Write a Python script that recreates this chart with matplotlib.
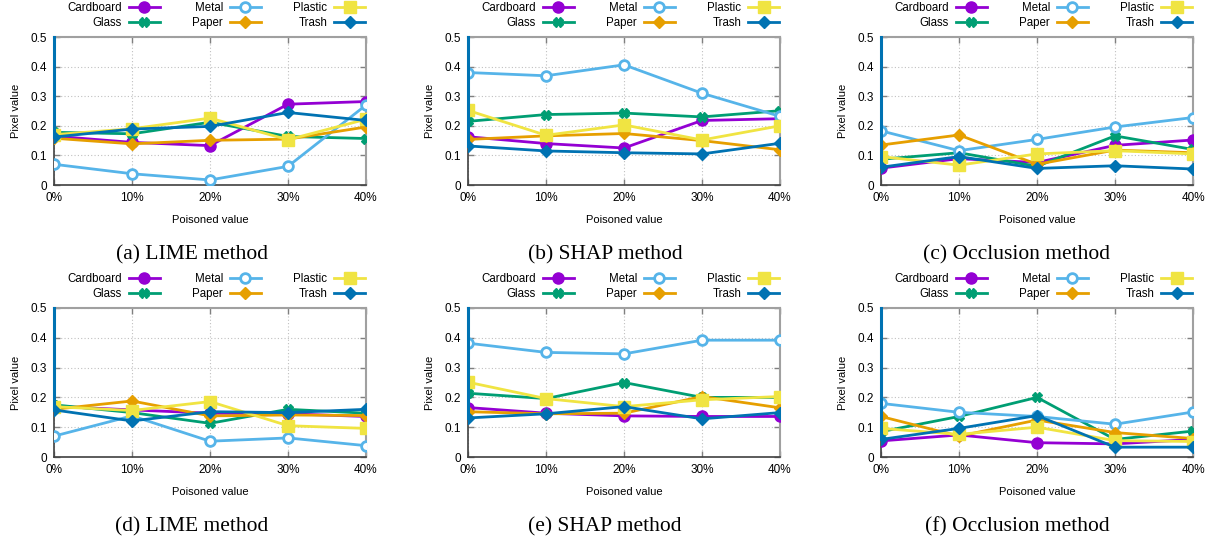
import matplotlib
matplotlib.use("Agg")
import matplotlib.pyplot as plt
from matplotlib.ticker import FixedLocator

plt.rcParams['font.family'] = ['Liberation Sans', 'DejaVu Sans']

x_labels = ["0%", "10%", "20%", "30%", "40%"]
x_pos = [0, 10, 20, 30, 40]
categories = ["Cardboard", "Glass", "Metal", "Paper", "Plastic", "Trash"]

# (a) LIME method (top)
lime_a_cardboard = [0.165, 0.144, 0.133, 0.273, 0.282]
lime_a_glass = [0.178, 0.173, 0.212, 0.164, 0.157]
lime_a_metal = [0.070, 0.038, 0.017, 0.063, 0.270]
lime_a_paper = [0.158, 0.139, 0.151, 0.155, 0.196]
lime_a_plastic = [0.170, 0.190, 0.226, 0.153, 0.222]
lime_a_trash = [0.162, 0.189, 0.198, 0.245, 0.218]

# (b) SHAP method (top)
shap_b_cardboard = [0.163, 0.140, 0.125, 0.218, 0.224]
shap_b_glass = [0.215, 0.238, 0.243, 0.230, 0.251]
shap_b_metal = [0.380, 0.369, 0.406, 0.310, 0.232]
shap_b_paper = [0.154, 0.166, 0.174, 0.150, 0.119]
shap_b_plastic = [0.252, 0.168, 0.203, 0.152, 0.200]
shap_b_trash = [0.132, 0.115, 0.109, 0.105, 0.141]

# (c) Occlusion method (top)
occ_c_cardboard = [0.057, 0.089, 0.076, 0.134, 0.152]
occ_c_glass = [0.087, 0.109, 0.063, 0.166, 0.120]
occ_c_metal = [0.183, 0.116, 0.154, 0.196, 0.228]
occ_c_paper = [0.135, 0.169, 0.070, 0.118, 0.109]
occ_c_plastic = [0.096, 0.067, 0.105, 0.116, 0.105]
occ_c_trash = [0.060, 0.096, 0.056, 0.065, 0.054]

# (d) LIME method (bottom)
lime_d_cardboard = [0.170, 0.158, 0.147, 0.145, 0.136]
lime_d_glass = [0.175, 0.149, 0.113, 0.160, 0.147]
lime_d_metal = [0.070, 0.138, 0.053, 0.064, 0.038]
lime_d_paper = [0.160, 0.188, 0.138, 0.141, 0.139]
lime_d_plastic = [0.169, 0.156, 0.186, 0.105, 0.096]
lime_d_trash = [0.158, 0.121, 0.152, 0.149, 0.160]

# (e) SHAP method (bottom)
shap_e_cardboard = [0.166, 0.147, 0.138, 0.136, 0.136]
shap_e_glass = [0.214, 0.196, 0.250, 0.200, 0.200]
shap_e_metal = [0.382, 0.351, 0.346, 0.392, 0.392]
shap_e_paper = [0.152, 0.145, 0.147, 0.203, 0.165]
shap_e_plastic = [0.251, 0.196, 0.169, 0.192, 0.203]
shap_e_trash = [0.131, 0.145, 0.169, 0.128, 0.149]

# (f) Occlusion method (bottom)
occ_f_cardboard = [0.054, 0.074, 0.048, 0.044, 0.059]
occ_f_glass = [0.085, 0.136, 0.200, 0.059, 0.087]
occ_f_metal = [0.180, 0.150, 0.136, 0.110, 0.151]
occ_f_paper = [0.136, 0.070, 0.124, 0.082, 0.062]
occ_f_plastic = [0.096, 0.076, 0.100, 0.055, 0.052]
occ_f_trash = [0.059, 0.096, 0.139, 0.033, 0.033]

captions = ["(a) LIME method", "(b) SHAP method", "(c) Occlusion method",
            "(d) LIME method", "(e) SHAP method", "(f) Occlusion method"]

panels = [
    [lime_a_cardboard, lime_a_glass, lime_a_metal, lime_a_paper, lime_a_plastic, lime_a_trash],
    [shap_b_cardboard, shap_b_glass, shap_b_metal, shap_b_paper, shap_b_plastic, shap_b_trash],
    [occ_c_cardboard, occ_c_glass, occ_c_metal, occ_c_paper, occ_c_plastic, occ_c_trash],
    [lime_d_cardboard, lime_d_glass, lime_d_metal, lime_d_paper, lime_d_plastic, lime_d_trash],
    [shap_e_cardboard, shap_e_glass, shap_e_metal, shap_e_paper, shap_e_plastic, shap_e_trash],
    [occ_f_cardboard, occ_f_glass, occ_f_metal, occ_f_paper, occ_f_plastic, occ_f_trash],
]

colors = ["#9400d3", "#009e73", "#56b4e9", "#e69f00", "#f0e442", "#0072b2"]
markers = ["o", "X", "o", "D", "s", "D"]
msizes = [8, 7, 7, 6, 8, 6]
filled = [True, True, False, True, True, True]

W, H = 1209, 541
fig = plt.figure(figsize=(W / 100, H / 100), dpi=100)

ax_lefts = [54, 468, 881]
ax_w = 312
row_specs = [(37, 185), (308, 457)]
cap_x = [192, 605, 1017]
cap_y = [255, 527]

for i, data in enumerate(panels):
    r, c = divmod(i, 3)
    top, bot = row_specs[r]
    ax = fig.add_axes([ax_lefts[c] / W, 1 - bot / H, ax_w / W, (bot - top) / H])
    for k, (name, vals) in enumerate(zip(categories, data)):
        kw = dict(color=colors[k], lw=2.0, marker=markers[k], ms=msizes[k],
                  label=name, zorder=3 + k)
        if filled[k]:
            kw.update(mfc=colors[k], mec=colors[k])
        else:
            kw.update(mfc="white", mec=colors[k], mew=2.0)
        ax.plot(x_pos, vals, **kw)
    # vertical artifact at first x from trash value to top
    ax.plot([x_pos[0], x_pos[0]], [data[5][0], 0.5], color=colors[5], lw=2.2,
            zorder=10, clip_on=False)
    ax.set_xlim(x_pos[0], x_pos[-1])
    ax.set_ylim(0, 0.5)
    ax.xaxis.set_major_locator(FixedLocator(x_pos))
    ax.set_xticklabels(x_labels)
    ax.set_yticks([0, 0.1, 0.2, 0.3, 0.4, 0.5])
    ax.set_yticklabels(["0", "0.1", "0.2", "0.3", "0.4", "0.5"])
    ax.tick_params(direction="in", top=True, right=True, length=4, width=1,
                   color="#808080", labelsize=8.5, pad=5)
    ax.grid(True, linestyle=(0, (1, 2)), color="#c0c0c0", lw=0.8)
    for s in ["top", "right"]:
        ax.spines[s].set_color("#a0a0a0")
        ax.spines[s].set_linewidth(1.5)
    for s in ["left", "bottom"]:
        ax.spines[s].set_color("#404040")
        ax.spines[s].set_linewidth(1.2)
    ax.set_xlabel("Poisoned value", fontsize=8, labelpad=8)
    ax.set_ylabel("Pixel value", fontsize=8, labelpad=7)
    ax.legend(ncol=3, markerfirst=False, frameon=False, loc="lower center",
              bbox_to_anchor=(0.52, 1.015), fontsize=8.3, handlelength=2.7,
              columnspacing=2.8, labelspacing=0.22, handletextpad=0.6,
              borderaxespad=0.1)
    fig.text(cap_x[c] / W, 1 - cap_y[r] / H, captions[i], ha="center", va="center",
             fontsize=15.5, family=["Liberation Serif", "DejaVu Serif"])

fig.savefig("out.png", dpi=100)
